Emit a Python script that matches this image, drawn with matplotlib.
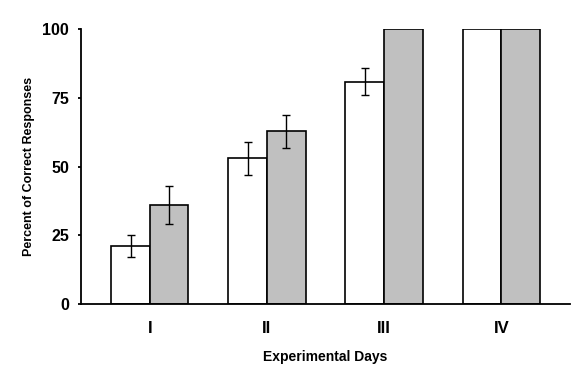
import matplotlib
matplotlib.use("Agg")
import matplotlib.pyplot as plt
import numpy as np

plt.rcParams['font.family'] = ['Liberation Sans', 'DejaVu Sans']

days = ["I", "II", "III", "IV"]
white_vals = [21, 53, 81, 100]
white_err = [4, 6, 5, 0]
gray_vals = [36, 63, 100, 100]
gray_err = [7, 6, 0, 0]
yticks = [0, 25, 50, 75, 100]

fig = plt.figure(figsize=(5.85, 3.73), dpi=100)
ax = fig.add_axes([0.138, 0.185, 0.836, 0.736])

x = np.arange(len(days))
w = 0.33
ekw = dict(elinewidth=1.0, capsize=2.6, capthick=1.0, ecolor='black')

werr = [e if e > 0 else np.nan for e in white_err]
gerr = [e if e > 0 else np.nan for e in gray_err]
ax.bar(x - w / 2, white_vals, w, color='white', edgecolor='black', linewidth=1.2,
       yerr=werr, error_kw=ekw, zorder=2)
ax.bar(x + w / 2, gray_vals, w, color='#c0c0c0', edgecolor='black', linewidth=1.2,
       yerr=gerr, error_kw=ekw, zorder=2)

ax.set_xlim(-0.59, 3.585)
ax.set_ylim(0, 100)
ax.set_yticks(yticks)
ax.set_xticks(x)
ax.set_xticklabels(days)
for s in ['top', 'right']:
    ax.spines[s].set_visible(False)
for s in ['left', 'bottom']:
    ax.spines[s].set_linewidth(1.3)
ax.spines['bottom'].set_zorder(3)
ax.tick_params(axis='y', length=2.5, width=1.3, labelsize=11.5, pad=6)
ax.tick_params(axis='x', length=0, labelsize=12, pad=12)
for lab in ax.get_yticklabels() + ax.get_xticklabels():
    lab.set_fontweight('bold')

ax.set_xlabel("Experimental Days", fontsize=10, fontweight='bold', labelpad=10)
ax.set_ylabel("Percent of Correct Responses", fontsize=9, fontweight='bold', labelpad=5)

fig.savefig("out.png", dpi=100)
